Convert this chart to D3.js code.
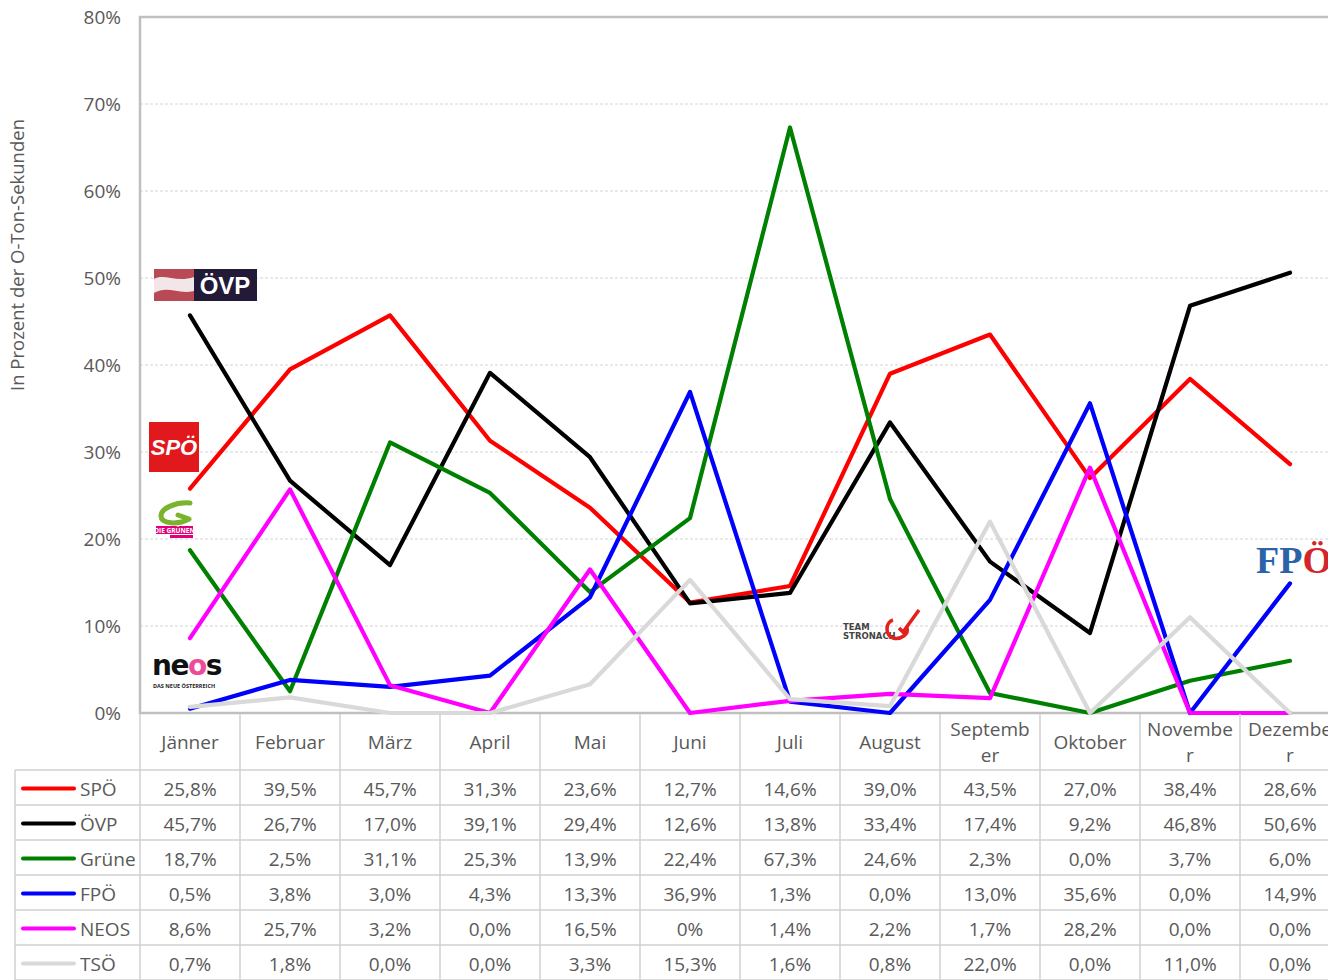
<!DOCTYPE html>
<html>
<head>
<meta charset="utf-8">
<script src="https://cdn.jsdelivr.net/npm/d3@7"></script>
<style>
  body { margin: 0; background: #fff; }
  svg { display: block; font-family: "Open Sans", sans-serif; }
</style>
</head>
<body>
<svg id="chart" width="1328" height="980"></svg>
<script>
// Months as shown in the header row (wrapped like the original)
const months = ["Jänner", "Februar", "März", "April", "Mai", "Juni", "Juli",
  "August", "September", "Oktober", "November", "Dezember"];
const monthLabels = [["Jänner"], ["Februar"], ["März"], ["April"], ["Mai"], ["Juni"], ["Juli"],
  ["August"], ["Septemb", "er"], ["Oktober"], ["Novembe", "r"], ["Dezembe", "r"]];

const parties = ["SPÖ", "ÖVP", "Grüne", "FPÖ", "NEOS", "TSÖ"];
const colors = ["#ff0000", "#000000", "#008000", "#0000ff", "#ff00ff", "#d9d9d9"];

const spo   = [25.8, 39.5, 45.7, 31.3, 23.6, 12.7, 14.6, 39.0, 43.5, 27.0, 38.4, 28.6];
const ovp   = [45.7, 26.7, 17.0, 39.1, 29.4, 12.6, 13.8, 33.4, 17.4, 9.2, 46.8, 50.6];
const grune = [18.7, 2.5, 31.1, 25.3, 13.9, 22.4, 67.3, 24.6, 2.3, 0.0, 3.7, 6.0];
const fpo   = [0.5, 3.8, 3.0, 4.3, 13.3, 36.9, 1.3, 0.0, 13.0, 35.6, 0.0, 14.9];
const neos  = [8.6, 25.7, 3.2, 0.0, 16.5, 0, 1.4, 2.2, 1.7, 28.2, 0.0, 0.0];
const tso   = [0.7, 1.8, 0.0, 0.0, 3.3, 15.3, 1.6, 0.8, 22.0, 0.0, 11.0, 0.0];
const series = [spo, ovp, grune, fpo, neos, tso];

const yTicks = [0, 10, 20, 30, 40, 50, 60, 70, 80];
// cells the original prints without a decimal
const labelOverrides = {"NEOS-5": "0%"};

const svg = d3.select("#chart");
const textColor = "#595959";
const gridColor = "#d4d4d4";
const fontSize = 19;

const x = d3.scaleBand().domain(months).range([140, 1340]);
const y = d3.scaleLinear().domain([0, 80]).range([713, 17]);

const fmt = v => v.toFixed(1).replace(".", ",") + "%";

// gridlines
svg.append("g")
  .selectAll("line")
  .data(yTicks.filter(t => t > 0 && t < 80))
  .enter().append("line")
    .attr("x1", 140).attr("x2", 1340)
    .attr("y1", d => y(d)).attr("y2", d => y(d))
    .attr("stroke", gridColor)
    .attr("stroke-dasharray", "3,2");

// y axis
const yAxis = svg.append("g")
  .attr("transform", "translate(140,0)")
  .call(d3.axisLeft(y).tickValues(yTicks).tickSize(0).tickPadding(19).tickFormat(d => d + "%"));
yAxis.select(".domain").remove();
yAxis.selectAll("text")
  .attr("fill", textColor)
  .attr("font-size", fontSize)
  .attr("font-family", "Open Sans");

svg.append("text")
  .attr("transform", "translate(24,255) rotate(-90)")
  .attr("text-anchor", "middle")
  .attr("fill", textColor)
  .attr("font-size", 18.5)
  .text("In Prozent der O-Ton-Sekunden");

// plot border (top, left, bottom)
svg.append("path")
  .attr("d", `M1340,${y(80)}H140V${y(0)}H1340`)
  .attr("fill", "none")
  .attr("stroke", "#bfbfbf")
  .attr("stroke-width", 2.5);

// ---- logos ----
const logos = svg.append("g");

// ÖVP
const ovpG = logos.append("g").attr("transform", "translate(154,269)");
ovpG.append("rect").attr("width", 103).attr("height", 32).attr("fill", "#221a36");
ovpG.append("rect").attr("width", 40).attr("height", 32).attr("fill", "#b84a55");
ovpG.append("path").attr("d", "M0,10 C10,4 22,14 40,8 L40,22 C24,26 14,16 0,24 Z").attr("fill", "#f2e6e8");
ovpG.append("text").attr("x", 71).attr("y", 25).attr("text-anchor", "middle")
  .attr("fill", "#fff").attr("font-size", 24).attr("font-weight", "bold")
  .attr("font-family", "Liberation Sans, Arial").text("ÖVP");

// SPÖ
const spoG = logos.append("g").attr("transform", "translate(149,422)");
spoG.append("rect").attr("width", 50).attr("height", 50).attr("fill", "#e2191c");
spoG.append("text").attr("x", 25).attr("y", 33).attr("text-anchor", "middle")
  .attr("fill", "#fff").attr("font-size", 22).attr("font-weight", "bold").attr("font-style", "italic")
  .attr("font-family", "Liberation Sans, Arial").text("SPÖ");

// Grüne
const grG = logos.append("g").attr("transform", "translate(156,500)");
grG.append("path")
  .attr("d", "M34,3 C20,2 5,8 5,16 C5,24 22,25 33,19 L22,15")
  .attr("fill", "none").attr("stroke", "#7ab32e").attr("stroke-width", 5)
  .attr("stroke-linecap", "round").attr("stroke-linejoin", "round");
grG.append("rect").attr("x", 0).attr("y", 26).attr("width", 37).attr("height", 8).attr("fill", "#e2007a");
grG.append("text").attr("x", 18.5).attr("y", 32.5).attr("text-anchor", "middle")
  .attr("fill", "#fff").attr("font-size", 6.5).attr("font-weight", "bold").text("DIE GRÜNEN");
grG.append("rect").attr("x", 14).attr("y", 35).attr("width", 23).attr("height", 3).attr("fill", "#e2007a");

// neos
const neosG = logos.append("g").attr("transform", "translate(152,653)");
const neosText = neosG.append("text").attr("x", 0).attr("y", 22)
  .attr("font-size", 28).attr("font-weight", "bold").attr("font-family", "DejaVu Sans")
  .attr("letter-spacing", -1.5);
neosText.append("tspan").attr("fill", "#111").text("ne");
neosText.append("tspan").attr("fill", "#ee4a9a").text("o");
neosText.append("tspan").attr("fill", "#111").text("s");
neosG.append("text").attr("x", 1).attr("y", 35).attr("fill", "#222")
  .attr("font-size", 5.5).attr("font-weight", "bold").text("DAS NEUE ÖSTERREICH");

// Team Stronach
const tsG = logos.append("g").attr("transform", "translate(843,608)");
tsG.append("text").attr("x", 0).attr("y", 22).attr("fill", "#444")
  .attr("font-size", 8.5).attr("font-weight", "bold").attr("font-family", "DejaVu Sans").text("TEAM");
tsG.append("text").attr("x", 0).attr("y", 31).attr("fill", "#444")
  .attr("font-size", 8.5).attr("font-weight", "bold").attr("font-family", "DejaVu Sans").text("STRONACH");
tsG.append("path")
  .attr("d", "M50,12 C42,14 42,28 50,30 C58,32 66,26 64,20 M56,20 L60,24 L76,2")
  .attr("fill", "none").attr("stroke", "#e3201b").attr("stroke-width", 3.5);

// FPÖ
const fpG = logos.append("text").attr("x", 1256).attr("y", 573)
  .attr("font-size", 38).attr("font-weight", "bold").attr("font-family", "Liberation Serif, serif");
fpG.append("tspan").attr("fill", "#2b63a8").text("FP");
fpG.append("tspan").attr("fill", "#d3262b").text("Ö");

// ---- lines ----
const line = d3.line()
  .x((d, i) => x(months[i]) + x.bandwidth() / 2)
  .y(d => y(d));

svg.append("g")
  .selectAll("path")
  .data(series)
  .enter().append("path")
    .attr("d", d => line(d))
    .attr("fill", "none")
    .attr("stroke", (d, i) => colors[i])
    .attr("stroke-width", 4.2)
    .attr("stroke-linejoin", "round")
    .attr("stroke-linecap", "round");

// ---- data table ----
const rowTop = 770, rowH = 35, headerTop = 714;
const table = svg.append("g");
const tableRight = 1340;

// header wrap labels
months.forEach((m, i) => {
  const lines = monthLabels[i];
  const cx = x(m) + x.bandwidth() / 2;
  const t = table.append("text")
    .attr("text-anchor", "middle")
    .attr("fill", textColor)
    .attr("font-size", fontSize);
  lines.forEach((l, k) => {
    t.append("tspan")
      .attr("x", cx)
      .attr("y", lines.length === 1 ? 749 : 736 + k * 26)
      .text(l);
  });
});

// vertical lines
table.selectAll("line.v")
  .data(d3.range(months.length + 1))
  .enter().append("line")
    .attr("x1", i => 140 + i * x.bandwidth())
    .attr("x2", i => 140 + i * x.bandwidth())
    .attr("y1", headerTop).attr("y2", 980)
    .attr("stroke", "#d0d0d0").attr("stroke-width", 1.5);
table.append("line")
  .attr("x1", 15).attr("x2", 15).attr("y1", rowTop).attr("y2", 980)
  .attr("stroke", "#d0d0d0").attr("stroke-width", 1.5);

// horizontal lines
table.selectAll("line.h")
  .data(d3.range(parties.length + 1))
  .enter().append("line")
    .attr("x1", 15).attr("x2", tableRight)
    .attr("y1", i => rowTop + i * rowH).attr("y2", i => rowTop + i * rowH)
    .attr("stroke", "#d0d0d0").attr("stroke-width", 1.5);

parties.forEach((p, r) => {
  const cy = rowTop + r * rowH + rowH / 2;
  table.append("line")
    .attr("x1", 23).attr("x2", 74).attr("y1", cy + 1).attr("y2", cy + 1)
    .attr("stroke", colors[r]).attr("stroke-width", 4).attr("stroke-linecap", "round");
  table.append("text")
    .attr("x", 80).attr("y", cy + 8)
    .attr("fill", textColor).attr("font-size", fontSize)
    .text(p);
  series[r].forEach((v, i) => {
    table.append("text")
      .attr("x", x(months[i]) + x.bandwidth() / 2)
      .attr("y", cy + 8)
      .attr("text-anchor", "middle")
      .attr("fill", textColor).attr("font-size", fontSize)
      .text(labelOverrides[p + "-" + i] || fmt(v));
  });
});
</script>
</body>
</html>
